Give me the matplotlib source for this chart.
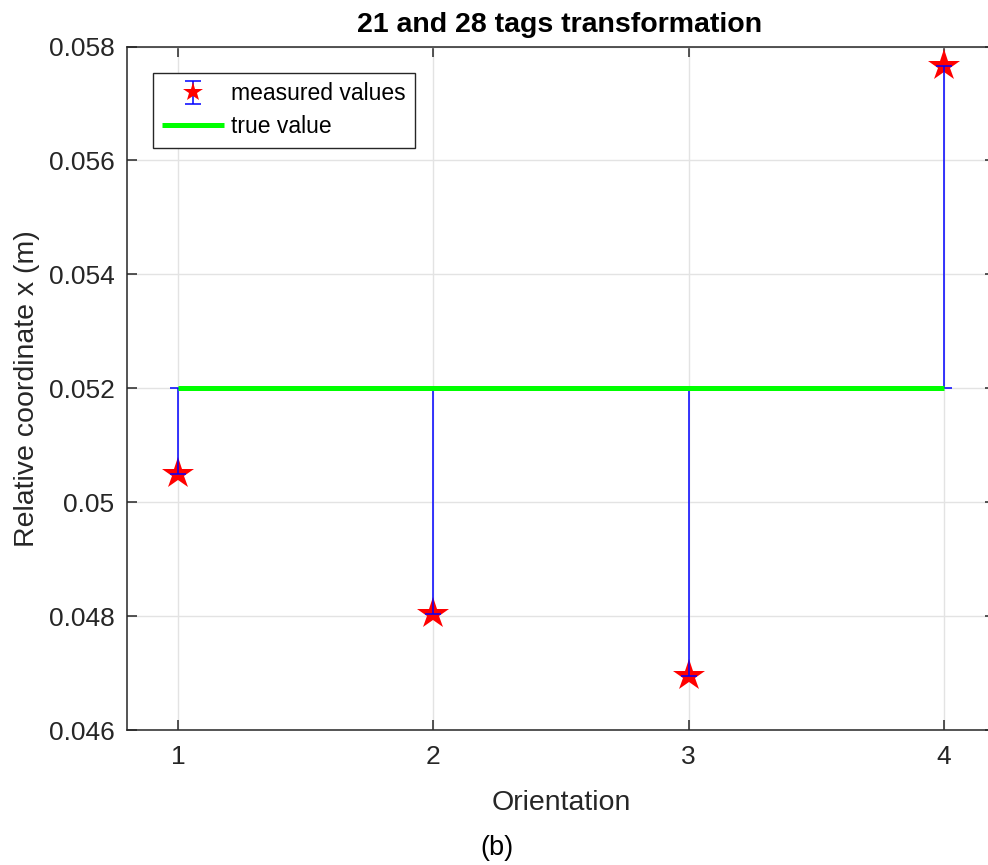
import matplotlib
matplotlib.use("Agg")
import matplotlib.pyplot as plt
from matplotlib.legend_handler import HandlerTuple
import numpy as np

plt.rcParams['font.family'] = ['Liberation Sans', 'DejaVu Sans']

orientation = [1, 2, 3, 4]
measured = [0.05049, 0.04803, 0.04695, 0.05766]
true_value = 0.052
yticks = [0.046, 0.048, 0.05, 0.052, 0.054, 0.056, 0.058]
ytick_labels = ["0.046", "0.048", "0.05", "0.052", "0.054", "0.056", "0.058"]
xticks = [1, 2, 3, 4]

W, H = 988, 865
fig = plt.figure(figsize=(W / 100, H / 100), dpi=100)
L, R, T, B = 127, 995, 46.5, 730
ax = fig.add_axes([L / W, 1 - B / H, (R - L) / W, (B - T) / H])

meas = np.array(measured)
lower = np.where(meas > true_value, meas - true_value, 0.0)
upper = np.where(meas < true_value, true_value - meas, 0.0)

st, = ax.plot(orientation, measured, linestyle='none', marker='*', color='red',
              markersize=24, markeredgewidth=0, zorder=3)
eb = ax.errorbar(orientation, measured, yerr=[lower, upper], fmt='none',
                 ecolor='blue', elinewidth=1.1, capsize=6, capthick=1.1, zorder=4)
gl, = ax.plot([orientation[0], orientation[-1]], [true_value, true_value],
              color='#00ff00', linewidth=3.6, zorder=5, solid_capstyle='butt')

ax.set_xlim(0.8, 4.2)
ax.set_ylim(0.046, 0.058)
ax.set_xticks(xticks)
ax.set_xticklabels([str(v) for v in xticks])
ax.set_yticks(yticks)
ax.set_yticklabels(ytick_labels)

ax.grid(True, color='#e3e3e3', linewidth=1.0)
ax.set_axisbelow(True)
for s in ax.spines.values():
    s.set_color('#262626')
    s.set_linewidth(1.1)
ax.spines['right'].set_visible(False)
ax.tick_params(direction='in', length=7, width=1.1, color='#262626',
               labelsize=19, labelcolor='#262626', top=True, right=True)
ax.tick_params(axis='y', pad=9)
ax.tick_params(axis='x', pad=11)

ax.set_xlabel('Orientation', fontsize=20.5, color='#262626', labelpad=15)
ax.set_ylabel('Relative coordinate x (m)', fontsize=20.5, color='#262626', labelpad=6)
fig.text(560 / W, 1 - 25 / H, '21 and 28 tags transformation', fontsize=20.5,
         fontweight='bold', ha='center', va='center')
fig.text(497 / W, 1 - 848 / H, '(b)', fontsize=19.5, ha='center', va='center')

leg = ax.legend([(eb, st), gl], ['measured values', 'true value'],
                handler_map={tuple: HandlerTuple(ndivide=1, pad=0)},
                loc='upper left', bbox_to_anchor=(153 / W, 1 - 73 / H),
                bbox_transform=fig.transFigure, borderaxespad=0,
                fontsize=16.5, fancybox=False, framealpha=1, edgecolor='#262626',
                handlelength=2.7, handletextpad=0.3, markerscale=0.62,
                labelspacing=0.45, borderpad=0.4)
leg.get_frame().set_linewidth(1.0)

fig.savefig('out.png', dpi=100)
